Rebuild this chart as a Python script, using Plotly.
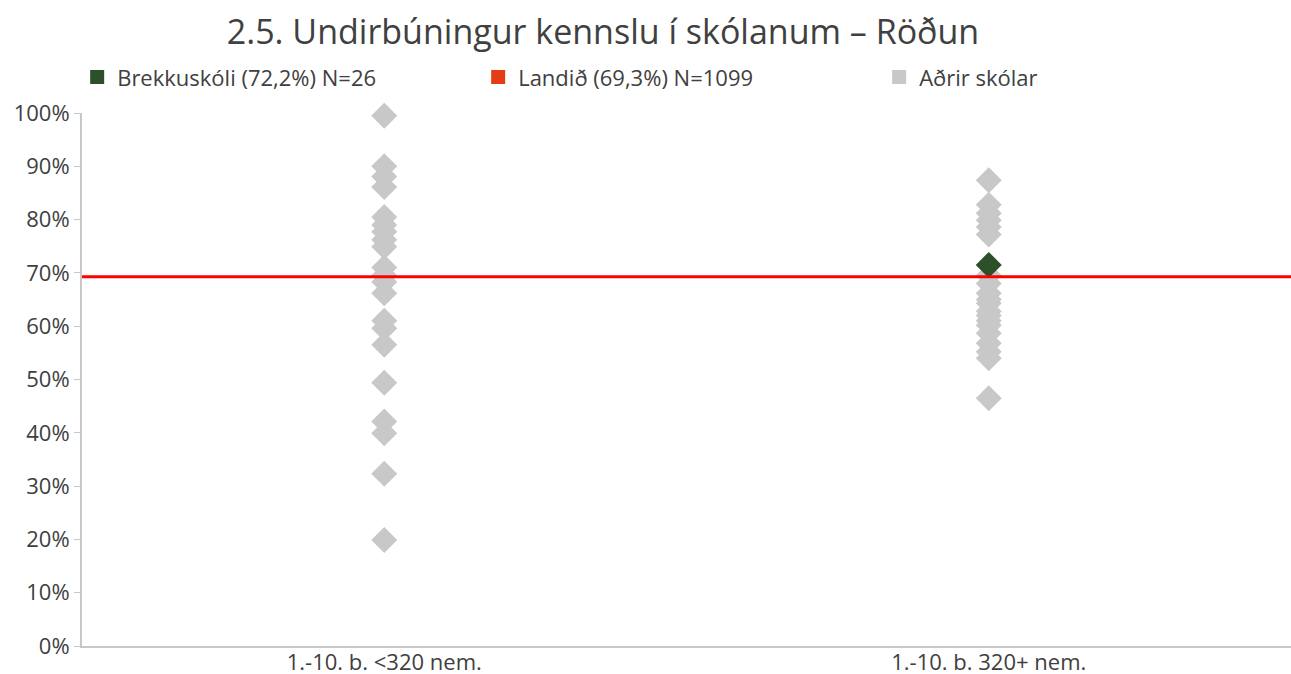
import plotly.graph_objects as go

title = "2.5. Undirbúningur kennslu í skólanum – Röðun"
categories = ["1.-10. b. <320 nem.", "1.-10. b. 320+ nem."]

# Other schools (Aðrir skólar), values in %
others_small = [99.5, 90.0, 88.1, 86.1, 80.5, 79.0, 77.7, 76.2, 74.9, 71.0, 69.5, 68.3,
                66.2, 61.0, 59.6, 56.5, 49.4, 42.1, 39.9, 32.3, 19.9]
others_large = [87.4, 82.8, 81.2, 79.9, 78.6, 77.2, 69.5, 68.0, 66.2, 65.0, 64.3, 62.8,
                62.0, 61.0, 60.2, 58.7, 56.8, 55.2, 54.0, 46.5]

brekku_cat = "1.-10. b. 320+ nem."
brekku_value = 71.5
landid_value = 69.3

legend_names = ["Brekkuskóli (72,2%) N=26", "Landið (69,3%) N=1099", "Aðrir skólar"]

GRAY = "#C8C8C8"
GREEN = "#2D4F2A"
RED = "#FF0000"
ORANGE = "#E23D16"
TEXT = "#404040"
FONT = "Open Sans"

fig = go.Figure()

# legend-only entries (square symbols)
fig.add_trace(go.Scatter(x=[None], y=[None], mode="markers", name=legend_names[0],
                         marker=dict(symbol="square", size=14, color=GREEN), showlegend=True))
fig.add_trace(go.Scatter(x=[None], y=[None], mode="markers", name=legend_names[1],
                         marker=dict(symbol="square", size=14, color=ORANGE), showlegend=True))
fig.add_trace(go.Scatter(x=[None], y=[None], mode="markers", name=legend_names[2],
                         marker=dict(symbol="square", size=14, color=GRAY), showlegend=True))

xs = [categories[0]] * len(others_small) + [categories[1]] * len(others_large)
ys = [v / 100 for v in others_small + others_large]
fig.add_trace(go.Scatter(x=xs, y=ys, mode="markers", showlegend=False,
                         marker=dict(symbol="diamond", size=20, color=GRAY),
                         cliponaxis=False, hoverinfo="skip"))

fig.add_shape(type="line", xref="paper", x0=0, x1=1, yref="y",
              y0=landid_value / 100, y1=landid_value / 100,
              line=dict(color=RED, width=3))

fig.add_trace(go.Scatter(x=[brekku_cat], y=[brekku_value / 100], mode="markers", showlegend=False,
                         marker=dict(symbol="diamond", size=20, color=GREEN),
                         cliponaxis=False))

fig.update_layout(
    width=1291, height=674,
    margin=dict(l=82, r=0, t=113, b=28, autoexpand=False),
    paper_bgcolor="white", plot_bgcolor="white",
    font=dict(family=FONT, color=TEXT, size=22),
    title=dict(text=title, x=603 / 1291, xanchor="center", y=1 - 32 / 674, yanchor="middle",
               font=dict(size=34, color=TEXT, family=FONT)),
    legend=dict(orientation="h", x=-0.004, xanchor="left", y=1.067, yanchor="middle",
                entrywidth=356, entrywidthmode="pixels",
                font=dict(size=22, color=TEXT, family=FONT), bgcolor="rgba(0,0,0,0)",
                itemclick=False, tracegroupgap=0),
    xaxis=dict(type="category", categoryorder="array", categoryarray=categories,
               range=[-0.5, 1.5], showgrid=False, showline=True, linecolor=GRAY, linewidth=2,
               ticks="", ticklabelstandoff=-4, tickfont=dict(size=22, color=TEXT),
               zeroline=False, fixedrange=True),
    yaxis=dict(range=[0, 1], tickvals=[i / 10 for i in range(11)], tickformat=".0%",
               showgrid=False, showline=True, linecolor=GRAY, linewidth=2,
               ticks="outside", ticklen=6, tickcolor=GRAY, tickwidth=1,
               tickfont=dict(size=22, color=TEXT), zeroline=False, fixedrange=True),
)

fig.write_html("out.html", config={"displayModeBar": False},
               post_script="document.body.style.margin='0';")
